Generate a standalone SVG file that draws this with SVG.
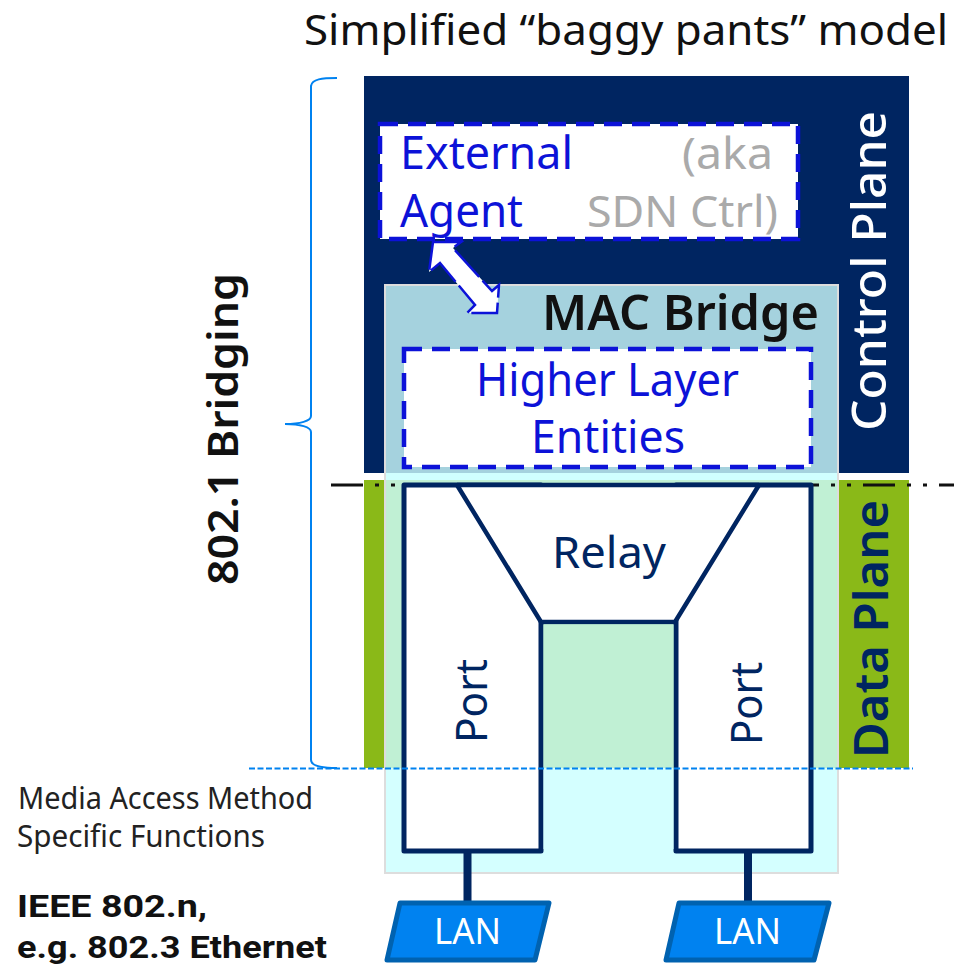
<svg xmlns="http://www.w3.org/2000/svg" width="954" height="966" viewBox="0 0 954 966">
<style>
text{font-family:"Noto Sans","Open Sans","DejaVu Sans",sans-serif}
.navy{fill:#002561}.blue{fill:#0c12d8}.grey{fill:#aaaaaa}.blk{fill:#111111}
.bold{font-weight:600}
.rb{font-family:Roboto,"Noto Sans",sans-serif;font-weight:700}
.box{fill:#fff;stroke:#002561;stroke-width:5;stroke-linejoin:round}
.line{fill:none;stroke:#002561;stroke-width:4.500}
.dash{fill:#fff;stroke:#0c12d8;stroke-width:4.500;stroke-dasharray:18 10}
.lan{fill:#0082f0;stroke:#0062b0;stroke-width:5;stroke-linejoin:round}
.lant{fill:#fff;font-size:36px}
</style>
<rect width="954" height="966" fill="#fff"/>
<g id="title"><text x="304" y="45" font-size="41" class="blk" textLength="644" lengthAdjust="spacingAndGlyphs">Simplified “baggy pants” model</text></g>
<g id="control-plane">
<rect x="364" y="76" width="545" height="397" fill="#002561"/>
<text transform="translate(886,431) rotate(-90)" font-size="47" fill="#fff" font-weight="500" textLength="320" lengthAdjust="spacingAndGlyphs">Control Plane</text>
</g>
<g id="data-plane">
<rect x="364" y="480" width="20" height="288" fill="#8ab918"/>
<rect x="839" y="480" width="70" height="288" fill="#8ab918"/>
</g>
<g id="mac-bridge">
<rect x="385" y="285" width="453" height="188" fill="#a5d2de"/>
<rect x="385" y="473" width="453" height="7" fill="#d0ffff"/>
<rect x="385" y="480" width="453" height="288" fill="#c0f0d4"/>
<rect x="385" y="768" width="453" height="105" fill="#d4ffff"/>
<rect x="385" y="285" width="453" height="588" fill="none" stroke="#dddddd" stroke-width="2"/>
<text x="542" y="330" font-size="48" class="blk bold" textLength="277" lengthAdjust="spacingAndGlyphs">MAC Bridge</text>
</g>
<g id="external-agent">
<rect class="dash" x="380" y="124" width="418" height="115"/>
<text x="400" y="169" font-size="46" class="blue" textLength="173" lengthAdjust="spacingAndGlyphs">External</text>
<text x="400" y="227" font-size="46" class="blue" textLength="123" lengthAdjust="spacingAndGlyphs">Agent</text>
<text x="682" y="169" font-size="43" class="grey" textLength="91" lengthAdjust="spacingAndGlyphs">(aka</text>
<text x="587" y="227" font-size="43" class="grey" textLength="191" lengthAdjust="spacingAndGlyphs">SDN Ctrl)</text>
</g>
<g id="higher-layer-entities">
<rect class="dash" x="404" y="349" width="407" height="118"/>
<text x="476" y="396" font-size="45" class="blue" textLength="263" lengthAdjust="spacingAndGlyphs">Higher Layer</text>
<text x="531" y="453" font-size="45" class="blue" textLength="154" lengthAdjust="spacingAndGlyphs">Entities</text>
</g>
<g id="connectors">
<path d="M433 242L461 242L453 248L492 291L499 285L497 313L467 313L475 305L440 263L429 272Z" fill="#fff" stroke="#0c12d8" stroke-width="2.500" stroke-dasharray="36 5"/>
<path d="M331 485H954" stroke="#111" stroke-width="3" fill="none" stroke-dasharray="32 12 4 12 4 12"/>
<path d="M337 78C322 78 312 79 311 86V416C311 421 300 424 285 424C300 424 311 427 311 432V760C311 766 322 768 337 768" fill="none" stroke="#0082f0" stroke-width="2"/>
<path d="M467.500 851V905M748 851V905" stroke="#002561" stroke-width="8" fill="none"/>
</g>
<g id="port-left">
<path class="box" d="M404 485H541V851H404Z"/>
<text transform="translate(487,743) rotate(-90)" font-size="44" class="navy" textLength="84" lengthAdjust="spacingAndGlyphs">Port</text>
</g>
<g id="port-right">
<path class="box" d="M676 485H811V851H676Z"/>
<text transform="translate(762,745) rotate(-90)" font-size="44" class="navy" textLength="83" lengthAdjust="spacingAndGlyphs">Port</text>
</g>
<g id="relay">
<path d="M457 485H759L675 622H541Z" fill="#fff"/>
<path class="line" d="M457 485H759M457 485L541 622H675L759 485"/>
<path d="M543.500 624.500H673.500V768H543.500Z" fill="#c0f0d4"/>
<path d="M543.500 768H673.500V849H543.500Z" fill="#d4ffff"/>
<text x="552" y="568" font-size="43" class="navy" textLength="114" lengthAdjust="spacingAndGlyphs">Relay</text>
</g>
<g id="data-plane-label">
<text transform="translate(888,758) rotate(-90)" font-size="46" class="navy" font-weight="600" textLength="258" lengthAdjust="spacingAndGlyphs">Data Plane</text>
</g>
<g id="boundary">
<path d="M249 768.500H913" stroke="#0082f0" stroke-width="2" stroke-dasharray="6 2.500" fill="none"/>
</g>
<g id="lan-1">
<path class="lan" d="M400 903H549L535 960H387Z"/>
<text class="lant" x="434" y="944" textLength="67" lengthAdjust="spacingAndGlyphs">LAN</text>
</g>
<g id="lan-2">
<path class="lan" d="M679 903H829L814 960H666Z"/>
<text class="lant" x="714" y="944" textLength="67" lengthAdjust="spacingAndGlyphs">LAN</text>
</g>
<g id="labels">
<text transform="translate(238,585) rotate(-90)" font-size="42" class="blk bold" textLength="312" lengthAdjust="spacingAndGlyphs">802.1 Bridging</text>
<text x="18" y="809" font-size="30" fill="#222" textLength="295" lengthAdjust="spacingAndGlyphs">Media Access Method</text>
<text x="17" y="847" font-size="30" fill="#222" textLength="248" lengthAdjust="spacingAndGlyphs">Specific Functions</text>
<text x="17" y="917" font-size="32" class="blk rb" textLength="190" lengthAdjust="spacingAndGlyphs">IEEE 802.n,</text>
<text x="17" y="958" font-size="32" class="blk rb" textLength="310" lengthAdjust="spacingAndGlyphs">e.g. 802.3 Ethernet</text>
</g>
</svg>
